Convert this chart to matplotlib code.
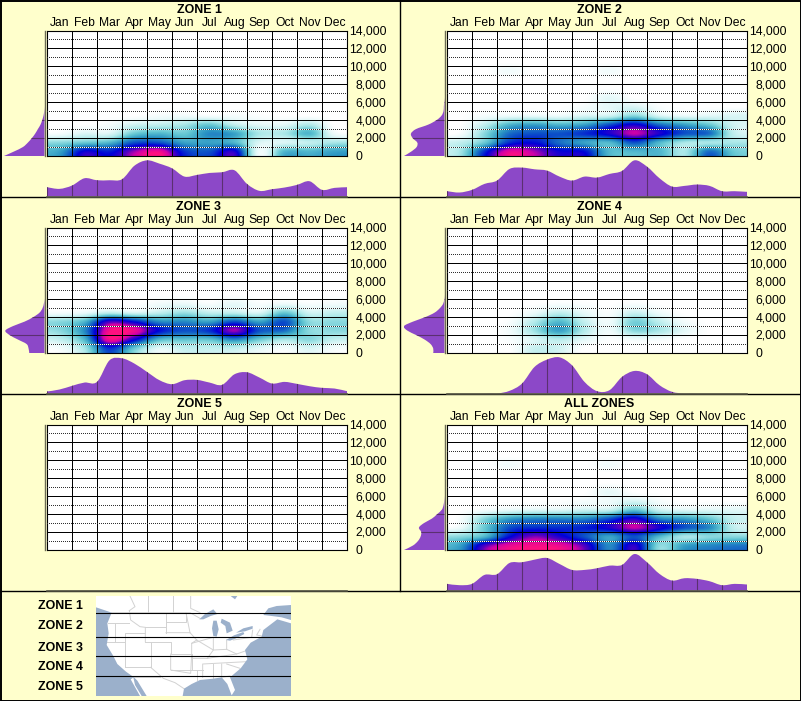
import matplotlib
matplotlib.use('Agg')
import matplotlib.pyplot as plt
import numpy as np
from matplotlib.colors import LinearSegmentedColormap
from matplotlib.patches import PathPatch
from matplotlib.path import Path

W, H = 801, 701
BG = '#FFFFCC'
PURPLE = '#8C48C8'
DARK = '#5A3070'
OCEAN = '#9BB0CB'
STATE = '#D2D2D2'

plt.rcParams['font.family'] = ['Liberation Sans', 'DejaVu Sans']

months = ['Jan', 'Feb', 'Mar', 'Apr', 'May', 'Jun', 'Jul', 'Aug', 'Sep', 'Oct', 'Nov', 'Dec']
alt_ticks = [0, 2000, 4000, 6000, 8000, 10000, 12000, 14000]
titles = ['ZONE 1', 'ZONE 2', 'ZONE 3', 'ZONE 4', 'ZONE 5', 'ALL ZONES']
zone_labels = ['ZONE 1', 'ZONE 2', 'ZONE 3', 'ZONE 4', 'ZONE 5']
zone_label_y = [605, 625, 647, 666, 686]
zone_split_y = [70, 142, 199, 259]

# heat rows go up from the ground, 1000 ft each; missing rows are empty
heat_1 = [
    [4.0, 6.8, 6.3, 8.2, 9.2, 6.0, 5.5, 7.0, 0.5, 3.5, 3.5, 4.0],
    [2.5, 3.0, 3.5, 5.5, 5.5, 4.0, 4.0, 3.5, 1.0, 1.0, 1.5, 2.0],
    [0.3, 1.0, 1.0, 3.0, 3.5, 3.0, 4.5, 4.0, 2.0, 2.0, 3.5, 0.5],
    [0.0, 0.0, 0.3, 1.2, 1.5, 2.0, 3.0, 1.5, 0.8, 0.8, 1.8, 0.0],
    [0.0, 0.0, 0.0, 0.0, 0.3, 0.4, 0.2, 0.3, 0.1, 0.0, 0.0, 0.0],
]
heat_2 = [
    [2.0, 6.0, 9.0, 8.3, 6.8, 6.5, 3.5, 3.5, 3.5, 2.0, 5.0, 3.0],
    [1.5, 3.0, 6.0, 6.5, 5.0, 4.0, 3.5, 5.5, 3.5, 2.0, 2.0, 2.0],
    [0.2, 2.5, 5.0, 5.5, 5.5, 6.0, 7.0, 8.5, 7.0, 5.5, 5.0, 1.5],
    [0.0, 1.5, 3.5, 4.0, 3.5, 4.0, 5.5, 6.8, 5.0, 4.0, 3.0, 1.2],
    [0.0, 0.3, 0.5, 0.6, 0.5, 1.0, 1.2, 2.5, 1.0, 0.6, 0.8, 1.0],
    [0.0, 0.0, 0.0, 0.0, 0.0, 0.3, 0.8, 1.0, 0.2, 0.0, 0.0, 0.0],
    [0.0, 0.0, 0.0, 0.0, 0.0, 0.0, 0.8, 0.0, 0.0, 0.0, 0.0, 0.0],
    [0.0, 0.0, 0.0, 0.0, 0.0, 0.0, 0.0, 0.0, 0.0, 0.0, 0.0, 0.0],
    [0.0, 0.0, 0.0, 0.0, 0.0, 0.0, 0.0, 0.0, 0.0, 0.0, 0.0, 0.0],
    [0.0, 0.0, 0.4, 0.0, 0.0, 0.0, 0.4, 0.0, 0.0, 0.0, 0.0, 0.0],
]
heat_3 = [
    [0.3, 2.0, 6.0, 3.0, 0.8, 1.5, 1.5, 1.5, 0.8, 0.3, 1.0, 0.3],
    [1.5, 3.5, 9.2, 6.8, 3.5, 3.2, 3.2, 4.5, 3.0, 2.0, 2.5, 1.5],
    [2.5, 4.5, 9.3, 9.1, 6.5, 5.5, 6.0, 8.2, 5.5, 5.0, 2.5, 2.5],
    [2.5, 3.5, 7.4, 6.4, 4.5, 4.5, 4.0, 5.5, 4.0, 5.5, 2.5, 2.5],
    [0.3, 0.6, 1.5, 1.0, 1.5, 2.2, 1.5, 1.5, 1.0, 3.0, 1.2, 1.5],
    [0.0, 0.0, 0.0, 0.0, 0.4, 0.6, 0.2, 0.7, 0.2, 0.5, 0.2, 0.4],
]
heat_4 = [
    [0.0, 0.0, 0.0, 1.4, 1.2, 0.0, 0.0, 0.0, 0.0, 0.0, 0.0, 0.0],
    [0.0, 0.0, 0.2, 1.0, 1.7, 0.8, 0.1, 0.4, 0.3, 0.0, 0.0, 0.0],
    [0.0, 0.0, 0.4, 2.2, 4.0, 1.8, 0.5, 2.5, 2.0, 0.8, 0.0, 0.0],
    [0.0, 0.0, 0.2, 1.8, 3.4, 1.5, 0.5, 2.8, 1.6, 0.4, 0.0, 0.0],
    [0.0, 0.0, 0.0, 0.6, 1.5, 0.7, 0.2, 1.3, 0.5, 0.0, 0.0, 0.0],
    [0.0, 0.0, 0.0, 0.0, 0.2, 0.1, 0.0, 0.2, 0.0, 0.0, 0.0, 0.0],
]
heat_5 = []
heat_all = [
    [4.0, 7.5, 9.0, 9.3, 9.1, 7.6, 4.5, 7.2, 2.5, 4.0, 4.5, 4.8],
    [2.5, 3.5, 6.5, 8.0, 7.0, 5.5, 4.0, 5.5, 3.5, 2.0, 2.5, 2.5],
    [0.5, 3.0, 5.5, 6.0, 6.0, 6.2, 7.0, 8.5, 7.0, 5.5, 4.5, 1.5],
    [0.2, 2.5, 4.0, 4.5, 4.5, 4.5, 5.5, 7.0, 4.5, 4.0, 3.0, 1.5],
    [0.0, 0.3, 0.6, 0.8, 0.8, 1.2, 1.3, 3.0, 1.2, 0.8, 0.8, 0.8],
    [0.0, 0.0, 0.0, 0.0, 0.1, 0.3, 0.5, 1.0, 0.3, 0.0, 0.0, 0.0],
    [0.0, 0.0, 0.0, 0.0, 0.0, 0.0, 0.7, 0.0, 0.0, 0.0, 0.0, 0.0],
    [0.0, 0.0, 0.0, 0.0, 0.0, 0.0, 0.0, 0.0, 0.0, 0.0, 0.0, 0.0],
    [0.0, 0.0, 0.0, 0.0, 0.0, 0.0, 0.0, 0.0, 0.0, 0.0, 0.0, 0.0],
    [0.0, 0.0, 0.4, 0.0, 0.0, 0.0, 0.4, 0.0, 0.0, 0.0, 0.0, 0.0],
]

# monthly curve under each chart, one value per half month
month_1 = [28, 23, 33, 55, 49, 49, 52, 93, 109, 99, 85, 60, 65, 71, 73, 79, 38, 17, 22, 27, 35, 46, 20, 26, 28]
month_2 = [16, 12, 20, 38, 48, 83, 87, 82, 78, 60, 48, 60, 57, 68, 77, 109, 90, 55, 30, 32, 36, 32, 16, 16, 14]
month_3 = [6, 12, 23, 33, 35, 100, 106, 90, 65, 40, 28, 40, 41, 33, 26, 58, 64, 48, 30, 35, 29, 22, 17, 15, 7]
month_4 = [0, 0, 0, 0, 0, 8, 30, 80, 102, 109, 85, 35, 7, 10, 50, 68, 58, 25, 5, 0, 0, 0, 0, 0, 0]
month_5 = [0] * 25
month_all = [20, 16, 20, 47, 49, 83, 85, 93, 98, 80, 62, 62, 67, 75, 77, 110, 85, 50, 30, 37, 35, 28, 16, 20, 18]

# altitude curve left of each chart, one value per 500 ft
alt_1 = [122, 92, 65, 50, 38, 28, 20, 12, 7, 3, 1]
alt_2 = [122, 100, 84, 82, 96, 101, 86, 49, 24, 9, 3, 2, 1]
alt_3 = [46, 48, 54, 80, 105, 118, 95, 60, 34, 15, 6, 2]
alt_4 = [34, 34, 42, 60, 85, 112, 122, 95, 58, 30, 14, 4, 1]
alt_5 = []
alt_all = [122, 95, 80, 72, 70, 77, 62, 38, 22, 8, 3, 1]

heats = [heat_1, heat_2, heat_3, heat_4, heat_5, heat_all]
month_curves = [month_1, month_2, month_3, month_4, month_5, month_all]
alt_curves = [alt_1, alt_2, alt_3, alt_4, alt_5, alt_all]

# rough map outlines, in the pixels of a 3x view of the map
pacific = [(288, 52), (318, 62), (335, 68), (322, 100), (326, 130), (320, 165), (340, 198), (352, 222), (378, 245),
           (402, 262), (412, 272), (440, 318), (425, 318), (405, 285), (400, 262), (392, 268), (420, 318), (288, 318)]
atlantic = [(548, 318), (552, 296), (575, 282), (600, 270), (640, 266), (665, 262), (682, 282), (695, 316), (705, 300),
            (690, 262), (722, 235), (742, 208), (735, 180), (752, 158), (785, 140), (790, 120), (832, 88), (873, 100),
            (873, 318)]
gulf_stl = [(790, 75), (805, 55), (830, 48), (873, 45), (873, 90), (845, 82), (815, 78)]
hudson = [(692, 18), (712, 18), (705, 28)]
lakes = [
    [(598, 88), (615, 72), (640, 58), (652, 72), (632, 78), (610, 88)],
    [(640, 92), (650, 92), (656, 118), (650, 140), (640, 138), (636, 115)],
    [(665, 86), (690, 98), (698, 122), (680, 130), (676, 108), (662, 98)],
    [(678, 150), (702, 136), (730, 126), (733, 132), (706, 146), (690, 152)],
    [(708, 128), (730, 115), (758, 108), (758, 116), (735, 124)],
]
state_lines = [
    [(335, 68), (570, 68), (600, 85)],
    [(325, 100), (388, 100)],
    [(388, 62), (392, 90), (420, 110), (436, 112), (436, 155)],
    [(436, 112), (498, 112), (498, 68)],
    [(498, 95), (558, 95), (558, 68)],
    [(498, 128), (570, 128), (590, 150)],
    [(436, 155), (512, 155), (512, 192), (575, 192)],
    [(322, 155), (376, 155), (376, 232)],
    [(376, 155), (376, 130), (436, 130)],
    [(452, 155), (452, 232)],
    [(376, 232), (452, 232)],
    [(512, 192), (512, 240), (572, 250), (575, 192), (575, 160), (590, 150)],
    [(575, 205), (622, 205), (710, 192), (750, 178)],
    [(590, 150), (640, 180), (622, 205)],
    [(608, 262), (608, 222), (740, 215)],
    [(640, 222), (640, 265)],
    [(665, 222), (665, 262), (690, 258)],
    [(680, 222), (720, 235)],
    [(640, 142), (640, 180), (680, 178), (680, 150)],
    [(680, 178), (710, 192)],
    [(700, 150), (755, 142), (758, 120)],
    [(780, 118), (770, 135), (785, 138)],
    [(452, 232), (490, 265), (525, 278), (552, 296)],
    [(400, 262), (480, 262)],
    [(390, 18), (405, 50), (388, 62)],
    [(445, 18), (445, 68)],
    [(518, 18), (518, 68)],
    [(572, 18), (572, 55), (600, 68)],
    [(498, 95), (498, 128)],
    [(558, 68), (570, 128)],
    [(575, 160), (640, 142)],
    [(512, 240), (608, 240)],
    [(575, 192), (575, 240)],
    [(590, 240), (590, 270)],
    [(345, 100), (345, 155)],
]


def smooth_outline(xs, ys):
    # bezier path through the read values, closed along the baseline
    xs, ys = np.asarray(xs, float), np.asarray(ys, float)
    verts = [(xs[0], 0), (xs[0], ys[0])]
    codes = [Path.MOVETO, Path.LINETO]
    for i in range(len(xs) - 1):
        lo, hi = max(i - 1, 0), min(i + 2, len(xs) - 1)
        c1 = (xs[i] + (xs[i + 1] - xs[lo]) / 6, ys[i] + (ys[i + 1] - ys[lo]) / 6)
        c2 = (xs[i + 1] - (xs[hi] - xs[i]) / 6, ys[i + 1] - (ys[hi] - ys[i]) / 6)
        verts += [c1, c2, (xs[i + 1], ys[i + 1])]
        codes += [Path.CURVE4] * 3
    verts += [(xs[-1], 0), (xs[0], 0)]
    codes += [Path.LINETO, Path.CLOSEPOLY]
    return Path(verts, codes)


def px_axes(figure, x0, y0, x1, y1):
    # axes placed by reference pixels, y counted from the top
    ax = figure.add_axes([x0 / W, 1 - y1 / H, (x1 - x0) / W, (y1 - y0) / H])
    ax.patch.set_alpha(0)
    return ax


def draw_heat(ax, rows, cmap):
    grid = np.zeros((14, 12))
    if rows:
        grid[:len(rows)] = np.asarray(rows)
    ax.imshow(grid, origin='lower', extent=(0, 12, 0, 14000), aspect='auto', cmap=cmap, vmin=0, vmax=9.5,
              interpolation='catrom', zorder=1)
    for m in range(13):
        ax.axvline(m, color='black', lw=0.72, zorder=3)
    for alt in range(2000, 14000, 2000):
        ax.axhline(alt, color='black', lw=0.72, zorder=3)
    for alt in range(1000, 14000, 2000):
        ax.axhline(alt, color='white', lw=0.72, zorder=2)
        ax.axhline(alt, color='#303030', lw=0.72, ls=(0, (0.5, 1.5)), antialiased=False, zorder=3)
    ax.set(xlim=(0, 12), ylim=(0, 14000), xticks=[], yticks=[])
    for spine in ax.spines.values():
        spine.set_linewidth(0.8)
    for m, name in enumerate(months):
        ax.text(m + 0.5, 1.06, name, transform=ax.get_xaxis_transform(), ha='center', va='center', fontsize=8.7)
    for alt in alt_ticks:
        label = f'{alt:,}'
        x = 1.052 if alt == 0 else 1.1317
        ax.text(x, alt - 100, label, transform=ax.get_yaxis_transform(), ha='right', va='center', fontsize=8.7)


def draw_month_curve(ax, values):
    xs = np.arange(25) / 2
    ax.set(xlim=(0, 12), ylim=(0, 110), xticks=[], yticks=[])
    ax.axis('off')
    if max(values) > 0:
        patch = PathPatch(smooth_outline(xs, values), facecolor=PURPLE, lw=0)
        ax.add_patch(patch)
        for m in range(13):
            ax.axvline(m, color=DARK, lw=0.8).set_clip_path(patch)
    ax.plot([0, 12], [0, 0], color='#555544', lw=1.2, clip_on=False)


def draw_alt_curve(ax, values):
    ax.set(xlim=(122, 0), ylim=(0, 14000), xticks=[], yticks=[])
    ax.axis('off')
    if values:
        ys = np.arange(len(values) + 1) * 500
        outline = smooth_outline(ys, list(values) + [0])
        patch = PathPatch(Path(outline.vertices[:, ::-1], outline.codes), facecolor=PURPLE, lw=0)
        ax.add_patch(patch)
        for alt in alt_ticks[1:]:
            ax.axhline(alt, color=DARK, lw=0.8).set_clip_path(patch)
    ax.plot([0, 0], [0, 14000], color='#6B6B55', lw=1.0, clip_on=False)


def draw_map(ax):
    ax.set_facecolor('white')
    ax.patch.set_alpha(1)
    ax.set(xlim=(288, 873), ylim=(318, 18), xticks=[], yticks=[])
    for spine in ax.spines.values():
        spine.set_visible(False)
    for line in state_lines:
        ax.plot(*zip(*line), color=STATE, lw=0.7, zorder=1)
    for shape in [pacific, atlantic, gulf_stl, hudson] + lakes:
        ax.fill(*zip(*shape), color=OCEAN, lw=0, zorder=2)
    for y in zone_split_y:
        ax.axhline(y, color='black', lw=0.8, zorder=3)


def main():
    cmap = LinearSegmentedColormap.from_list('hits', [
        (0.0, '#FFFFFF'), (0.08, '#E6F9F9'), (0.2, '#B0EAEA'), (0.33, '#62C6D2'), (0.45, '#2C96C4'),
        (0.58, '#0C50C8'), (0.7, '#0000D8'), (0.82, '#5A00C0'), (0.9, '#D000A8'), (1.0, '#FF1080')])

    figure = plt.figure(figsize=(W / 100, H / 100), dpi=100, facecolor=BG)

    frame = px_axes(figure, 0, 0, W, H)
    frame.set(xlim=(0, W), ylim=(H, 0))
    frame.axis('off')
    for y in [197, 394, 590.5]:
        frame.plot([0, W], [y, y], color='black', lw=1.0)
    frame.plot([400, 400], [0, 591], color='black', lw=1.0)
    frame.plot([0.5, 800.5, 800.5, 0.5, 0.5], [0.5, 0.5, 700.5, 700.5, 0.5], color='black', lw=1.4)

    for i, title in enumerate(titles):
        col, row = i % 2, i // 2
        dx, dy = col * 400, row * 197
        heat_ax = px_axes(figure, dx + 47, dy + 30.5, dx + 347, dy + 156.0)
        draw_heat(heat_ax, heats[i], cmap)
        draw_month_curve(px_axes(figure, dx + 47, dy + 160, dx + 347, dy + 196.5), month_curves[i])
        draw_alt_curve(px_axes(figure, dx + 4, dy + 30.5, dx + 44.5, dy + 156.0), alt_curves[i])
        frame.text(dx + 199, dy + 10, title, ha='center', va='center', fontsize=8.9, fontweight='bold')

    for label, y in zip(zone_labels, zone_label_y):
        frame.text(83, y + 1, label, ha='right', va='center', fontsize=8.9, fontweight='bold')
    draw_map(px_axes(figure, 96, 596, 291, 696))

    figure.savefig('out.png', dpi=100, facecolor=BG)


if __name__ == '__main__':
    main()
